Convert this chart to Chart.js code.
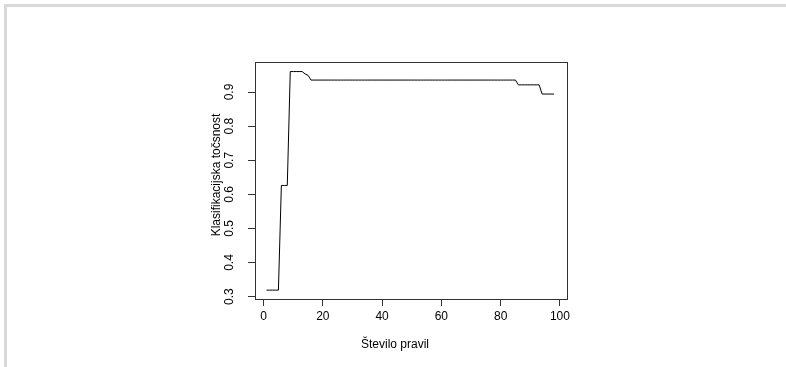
<!DOCTYPE html>
<html lang="sl">
<head>
  <meta charset="UTF-8" />
  <title>Klasifikacijska točsnost</title>
  <script src="https://cdn.jsdelivr.net/npm/chart.js"></script>
  <style>
    html, body { margin: 0; padding: 0; background: #fff; }
    .frame {
      position: absolute; left: 4px; top: 4px; right: 0; bottom: 0;
      border-top: 3px solid #d9d9d9;
      border-left: 3px solid #d9d9d9;
    }
    #chart { position: absolute; left: 0; top: 0; }
  </style>
</head>
<body>
  <div class="frame"></div>
  <canvas id="chart" width="786" height="367"></canvas>

  <script>
    // number of rules
    const rules = [
      1, 2, 3, 4, 5, 6, 7, 8, 9, 10,
      11, 12, 13, 14, 15, 16, 17, 18, 19, 20,
      21, 22, 23, 24, 25, 26, 27, 28, 29, 30,
      31, 32, 33, 34, 35, 36, 37, 38, 39, 40,
      41, 42, 43, 44, 45, 46, 47, 48, 49, 50,
      51, 52, 53, 54, 55, 56, 57, 58, 59, 60,
      61, 62, 63, 64, 65, 66, 67, 68, 69, 70,
      71, 72, 73, 74, 75, 76, 77, 78, 79, 80,
      81, 82, 83, 84, 85, 86, 87, 88, 89, 90,
      91, 92, 93, 94, 95, 96, 97, 98
    ];
    // classification accuracy
    const accuracy = [
      0.319, 0.319, 0.319, 0.319, 0.319, 0.626, 0.626, 0.626, 0.96, 0.96,
      0.96, 0.96, 0.96, 0.953, 0.949, 0.935, 0.935, 0.935, 0.935, 0.935,
      0.935, 0.935, 0.935, 0.935, 0.935, 0.935, 0.935, 0.935, 0.935, 0.935,
      0.935, 0.935, 0.935, 0.935, 0.935, 0.935, 0.935, 0.935, 0.935, 0.935,
      0.935, 0.935, 0.935, 0.935, 0.935, 0.935, 0.935, 0.935, 0.935, 0.935,
      0.935, 0.935, 0.935, 0.935, 0.935, 0.935, 0.935, 0.935, 0.935, 0.935,
      0.935, 0.935, 0.935, 0.935, 0.935, 0.935, 0.935, 0.935, 0.935, 0.935,
      0.935, 0.935, 0.935, 0.935, 0.935, 0.935, 0.935, 0.935, 0.935, 0.935,
      0.935, 0.935, 0.935, 0.935, 0.935, 0.921, 0.921, 0.921, 0.921, 0.921,
      0.921, 0.921, 0.921, 0.894, 0.894, 0.894, 0.894, 0.894
    ];
    const xTicks = [0, 20, 40, 60, 80, 100];
    const yTicks = [0.3, 0.4, 0.5, 0.6, 0.7, 0.8, 0.9];

    const FONT = '12px "Liberation Sans", Arial, sans-serif';

    // box round the plot, titles and rotated y labels (like R's base graphics)
    const rStyle = {
      id: 'rStyle',
      afterDraw(chart) {
        const c = chart.ctx;
        const a = chart.chartArea;
        const ys = chart.scales.y;
        c.save();
        c.strokeStyle = '#333';
        c.lineWidth = 1;
        c.strokeRect(Math.round(a.left) + 0.5, Math.round(a.top) + 0.5,
          Math.round(a.right - a.left), Math.round(a.bottom - a.top));

        c.fillStyle = '#000';
        c.font = FONT;
        c.textAlign = 'center';
        c.textBaseline = 'middle';
        ys.ticks.forEach(t => {
          const py = ys.getPixelForValue(t.value);
          c.save();
          c.translate(230, py);
          c.rotate(-Math.PI / 2);
          c.fillText(String(t.value), 0, 0);
          c.restore();
        });

        c.fillText('Število pravil', 395, 345);
        c.save();
        c.translate(217, 175);
        c.rotate(-Math.PI / 2);
        c.fillText('Klasifikacijska točsnost', 0, 0);
        c.restore();
        c.restore();
      }
    };

    new Chart(document.getElementById('chart'), {
      type: 'line',
      data: {
        datasets: [{
          data: rules.map((r, i) => ({ x: r, y: accuracy[i] })),
          borderColor: '#000',
          borderWidth: 1,
          pointRadius: 0,
          tension: 0,
          fill: false
        }]
      },
      options: {
        responsive: false,
        animation: false,
        layout: { padding: { left: 205, right: 219, top: 62, bottom: 28 } },
        plugins: { legend: { display: false }, tooltip: { enabled: false } },
        scales: {
          x: {
            type: 'linear',
            min: -2.9,
            max: 102.4,
            afterBuildTicks: s => { s.ticks = xTicks.map(v => ({ value: v })); },
            afterFit: s => { s.height = 40; },
            border: { display: false },
            grid: { drawOnChartArea: false, drawTicks: true, tickLength: 7, color: '#333' },
            ticks: { color: '#000', font: { family: '"Liberation Sans", Arial, sans-serif', size: 12 }, padding: 3, maxRotation: 0 }
          },
          y: {
            min: 0.293,
            max: 0.988,
            afterBuildTicks: s => { s.ticks = yTicks.map(v => ({ value: v })); },
            afterFit: s => { s.width = 50; },
            border: { display: false },
            grid: { drawOnChartArea: false, drawTicks: true, tickLength: 7, color: '#333' },
            ticks: { display: false }
          }
        }
      },
      plugins: [rStyle]
    });
  </script>
</body>
</html>
